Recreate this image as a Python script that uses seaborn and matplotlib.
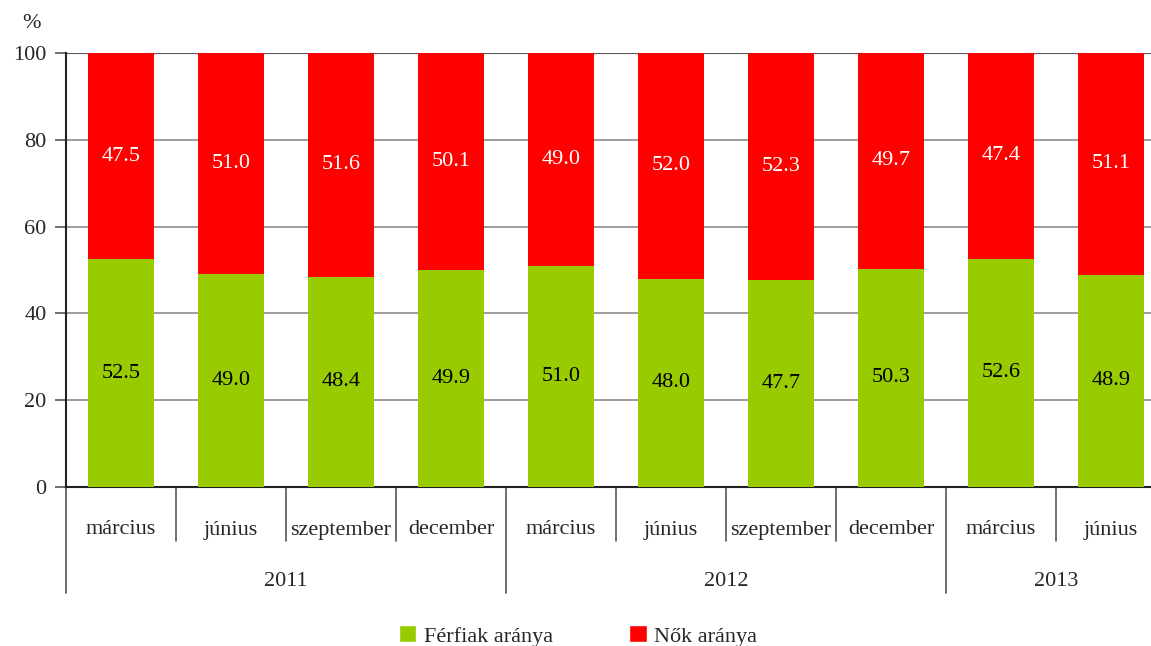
import matplotlib
matplotlib.use("Agg")
import matplotlib.pyplot as plt
import matplotlib.transforms as mtransforms
from matplotlib.patches import Patch
import pandas as pd
import seaborn as sns

# Havi adatok (2011 március - 2013 június)
MONTHS = ["március", "június", "szeptember", "december",
          "március", "június", "szeptember", "december",
          "március", "június"]
YEARS = ["2011", "2012", "2013"]
YEAR_CENTERS = [1.5, 5.5, 8.5]
YEAR_BOUNDS = [-0.5, 3.5, 7.5]

FERFI = [52.5, 49.0, 48.4, 49.9, 51.0, 48.0, 47.7, 50.3, 52.6, 48.9]
NO = [47.5, 51.0, 51.6, 50.1, 49.0, 52.0, 52.3, 49.7, 47.4, 51.1]

GREEN = "#99CC00"
RED = "#FF0000"
FONT = "Liberation Serif"
FS = 16

sns.set_style("white")
plt.rcParams["font.family"] = [FONT, "DejaVu Serif"]

df = pd.DataFrame({
    "idx": [str(i) for i in range(len(MONTHS))],
    "ferfi": FERFI,
    "total": [f + n for f, n in zip(FERFI, NO)],
})

fig = plt.figure(figsize=(11.51, 6.46), dpi=100)
ax = fig.add_axes([66 / 1151, 1 - 487 / 646, 1 - 66 / 1151, 434 / 646])

# Gridlines behind bars
for v in [20, 40, 60, 80]:
    ax.axhline(v, color="#8c8c8c", linewidth=1.2, zorder=0)
ax.axhline(100, color="#555555", linewidth=1.5, zorder=0)

sns.barplot(data=df, x="idx", y="total", color=RED, width=0.6,
            saturation=1, linewidth=0, ax=ax, zorder=2)
sns.barplot(data=df, x="idx", y="ferfi", color=GREEN, width=0.6,
            saturation=1, linewidth=0, ax=ax, zorder=3)

for i, (f, n) in enumerate(zip(FERFI, NO)):
    ax.text(i, f / 2, f"{f:.1f}", ha="center", va="center",
            fontsize=FS, color="black", zorder=4)
    ax.text(i, f + n / 2, f"{n:.1f}", ha="center", va="center",
            fontsize=FS, color="white", zorder=4)

ax.set_xlim(-0.5, -0.5 + (1151 - 66) / 110)
ax.set_ylim(0, 100)
ax.set_yticks([0, 20, 40, 60, 80, 100])
ax.set_yticklabels(["0", "20", "40", "60", "80", "100"], fontsize=FS)
ax.tick_params(axis="y", left=True, length=8, width=1.2, color="#555555", pad=6)
ax.set_xticks([])
ax.set_xlabel("")
ax.set_ylabel("")

for side in ["top", "right"]:
    ax.spines[side].set_visible(False)
ax.spines["left"].set_color("#222222")
ax.spines["left"].set_linewidth(1.5)
ax.spines["bottom"].set_color("#222222")
ax.spines["bottom"].set_linewidth(1.5)

# Kétszintű kategóriatengely
trans = mtransforms.blended_transform_factory(ax.transData, ax.transAxes)
month_depth = -(541 - 487) / 434
year_depth = -(593 - 487) / 434
for b in [0.5, 1.5, 2.5, 4.5, 5.5, 6.5, 8.5]:
    ax.plot([b, b], [0, month_depth], transform=trans, color="#555555",
            linewidth=1.2, clip_on=False)
for b in YEAR_BOUNDS:
    ax.plot([b, b], [0, year_depth], transform=trans, color="#555555",
            linewidth=1.2, clip_on=False)
for i, m in enumerate(MONTHS):
    ax.text(i, -(530 - 487) / 434, m, transform=trans, ha="center",
            va="center", fontsize=FS)
for c, y in zip(YEAR_CENTERS, YEARS):
    ax.text(c, -(581 - 487) / 434, y, transform=trans, ha="center",
            va="center", fontsize=FS)

fig.text(32 / 1151, 1 - 24 / 646, "%", ha="center", va="center", fontsize=FS)

handles = [Patch(facecolor=GREEN, label="Férfiak aránya"),
           Patch(facecolor=RED, label="Nők aránya")]
fig.legend(handles=handles, loc="center", bbox_to_anchor=(578 / 1151, 1 - 636 / 646),
           ncol=2, frameon=False, fontsize=FS, handlelength=0.8, handleheight=0.8,
           handletextpad=0.35, columnspacing=3.4)

fig.savefig("out.png", dpi=100)
